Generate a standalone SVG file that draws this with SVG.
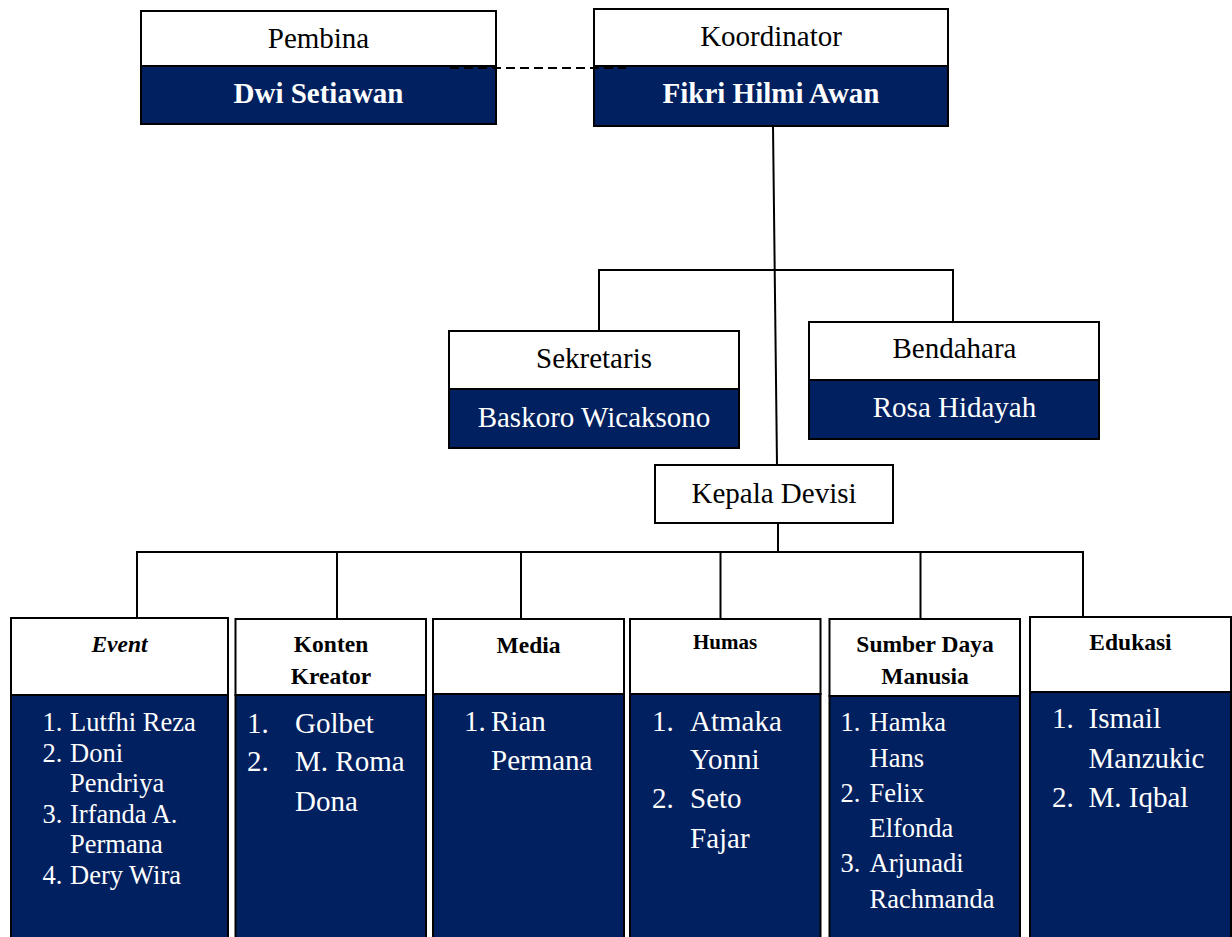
<svg xmlns="http://www.w3.org/2000/svg" width="1232" height="937" viewBox="0 0 1232 937">
<style>
.hd{fill:#ffffff;stroke:#000;stroke-width:2}
.bd{fill:#002060;stroke:#000;stroke-width:2}
.t{font-family:"Liberation Serif","Times New Roman",serif;fill:#000}
.w{font-family:"Liberation Serif","Times New Roman",serif;fill:#ffffff}
.c{text-anchor:middle}
.f29{font-size:29px}
.f26{font-size:26.5px}
.h{font-size:23.5px;font-weight:bold}
.ln{fill:none;stroke:#000;stroke-width:2}
</style>
<rect width="1232" height="937" fill="#ffffff"/>
<g id="pembina">
<rect class="hd" x="141" y="11" width="355" height="55"/>
<rect class="bd" x="141" y="66" width="355" height="58"/>
<text class="t c f29" x="318.5" y="48">Pembina</text>
<text class="w c f29" x="318.5" y="103" font-weight="bold">Dwi Setiawan</text>
</g>
<g id="koordinator">
<rect class="hd" x="594" y="9" width="354" height="57"/>
<rect class="bd" x="594" y="66" width="354" height="60"/>
<text class="t c f29" x="771" y="46">Koordinator</text>
<text class="w c f29" x="771" y="103" font-weight="bold">Fikri Hilmi Awan</text>
</g>
<g id="sekretaris">
<rect class="hd" x="449" y="331" width="290" height="58"/>
<rect class="bd" x="449" y="389" width="290" height="59"/>
<text class="t c f29" x="594" y="368">Sekretaris</text>
<text class="w c f29" x="594" y="427">Baskoro Wicaksono</text>
</g>
<g id="bendahara">
<rect class="hd" x="809" y="322" width="290" height="58"/>
<rect class="bd" x="809" y="380" width="290" height="59"/>
<text class="t c f29" x="954.5" y="358">Bendahara</text>
<text class="w c f29" x="954.5" y="417">Rosa Hidayah</text>
</g>
<g id="kepala-devisi">
<rect class="hd" x="655" y="465" width="238" height="58"/>
<text class="t c f29" x="774" y="503">Kepala Devisi</text>
</g>
<g id="event">
<rect class="hd" x="11" y="618" width="217" height="77"/>
<rect class="bd" x="11" y="695" width="217" height="250"/>
<text class="t c h" x="119.5" y="652" font-style="italic">Event</text>
<g class="w f26">
<text x="42.5" y="731">1.</text><text x="70" y="731">Lutfhi Reza</text>
<text x="42.5" y="762">2.</text><text x="70" y="762">Doni</text>
<text x="70" y="792">Pendriya</text>
<text x="42.5" y="823">3.</text><text x="70" y="823">Irfanda A.</text>
<text x="70" y="853">Permana</text>
<text x="42.5" y="884">4.</text><text x="70" y="884">Dery Wira</text>
</g>
</g>
<g id="konten-kreator">
<rect class="hd" x="235.5" y="619" width="190.5" height="76"/>
<rect class="bd" x="235.5" y="695" width="190.5" height="250"/>
<text class="t c h" x="331" y="652">Konten</text>
<text class="t c h" x="331" y="684">Kreator</text>
<g class="w f29">
<text x="247" y="733">1.</text><text x="295" y="733">Golbet</text>
<text x="247" y="771">2.</text><text x="295" y="771">M. Roma</text>
<text x="295" y="811">Dona</text>
</g>
</g>
<g id="media">
<rect class="hd" x="433" y="619" width="191" height="75"/>
<rect class="bd" x="433" y="694" width="191" height="251"/>
<text class="t c h" x="528.5" y="653">Media</text>
<g class="w f29">
<text x="464" y="731">1.</text><text x="491" y="731">Rian</text>
<text x="491" y="770">Permana</text>
</g>
</g>
<g id="humas">
<rect class="hd" x="630" y="619" width="190.5" height="75"/>
<rect class="bd" x="630" y="694" width="190.5" height="251"/>
<text class="t c" x="725" y="649" font-size="21px" font-weight="bold">Humas</text>
<g class="w f29">
<text x="652" y="731">1.</text><text x="690" y="731">Atmaka</text>
<text x="690" y="769">Yonni</text>
<text x="652" y="808">2.</text><text x="690" y="808">Seto</text>
<text x="690" y="848">Fajar</text>
</g>
</g>
<g id="sumber-daya-manusia">
<rect class="hd" x="829.5" y="619" width="190.5" height="77"/>
<rect class="bd" x="829.5" y="696" width="190.5" height="249"/>
<text class="t c h" x="925" y="652">Sumber Daya</text>
<text class="t c h" x="925" y="684">Manusia</text>
<g class="w f26">
<text x="840.5" y="731">1.</text><text x="869.5" y="731">Hamka</text>
<text x="869.5" y="767">Hans</text>
<text x="840.5" y="802">2.</text><text x="869.5" y="802">Felix</text>
<text x="869.5" y="837">Elfonda</text>
<text x="840.5" y="872">3.</text><text x="869.5" y="872">Arjunadi</text>
<text x="869.5" y="908">Rachmanda</text>
</g>
</g>
<g id="edukasi">
<rect class="hd" x="1030" y="617" width="201" height="75"/>
<rect class="bd" x="1030" y="692" width="201" height="253"/>
<text class="t c h" x="1130.5" y="650">Edukasi</text>
<g class="w f29">
<text x="1052" y="728">1.</text><text x="1088.5" y="728">Ismail</text>
<text x="1088.5" y="768">Manzukic</text>
<text x="1052" y="807">2.</text><text x="1088.5" y="807">M. Iqbal</text>
</g>
</g>
<g id="connectors">
<line class="ln" x1="450" y1="68" x2="626" y2="68" stroke-dasharray="9,5"/>
<line class="ln" x1="773" y1="126" x2="777" y2="465"/>
<polyline class="ln" points="599,331 599,270 953,270 953,322"/>
<line class="ln" x1="778" y1="523" x2="778" y2="552"/>
<polyline class="ln" points="137,618 137,552 1083,552 1083,617"/>
<line class="ln" x1="337" y1="552" x2="337" y2="619"/>
<line class="ln" x1="521" y1="552" x2="521" y2="619"/>
<line class="ln" x1="720.5" y1="552" x2="720.5" y2="619"/>
<line class="ln" x1="920.5" y1="552" x2="920.5" y2="619"/>
</g>
</svg>
